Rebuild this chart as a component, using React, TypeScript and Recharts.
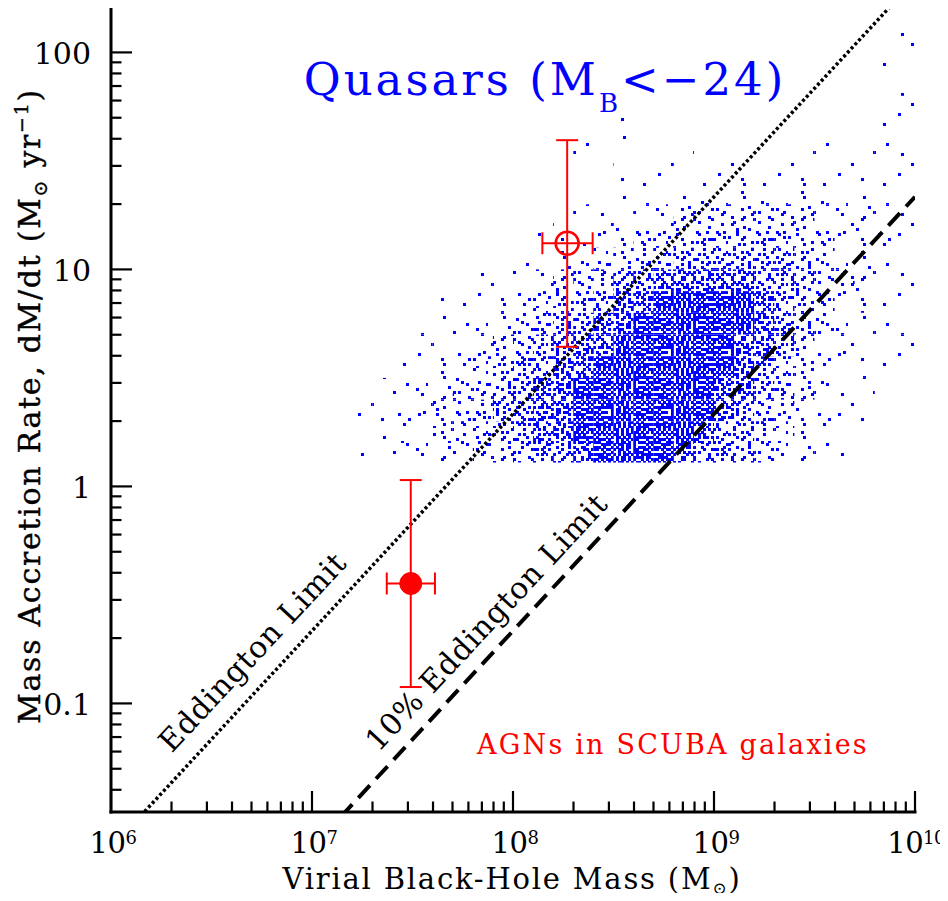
import React from 'react';
import { ComposedChart, XAxis, YAxis, Scatter, Line, ErrorBar, ReferenceArea } from 'recharts';

// ---------------- data ----------------
const massTicks = [
  1e6, 2e6, 3e6, 4e6, 5e6, 6e6, 7e6, 8e6, 9e6,
  1e7, 2e7, 3e7, 4e7, 5e7, 6e7, 7e7, 8e7, 9e7,
  1e8, 2e8, 3e8, 4e8, 5e8, 6e8, 7e8, 8e8, 9e8,
  1e9, 2e9, 3e9, 4e9, 5e9, 6e9, 7e9, 8e9, 9e9,
  1e10,
];
const rateTicks = [
  0.04, 0.05, 0.06, 0.07, 0.08, 0.09,
  0.1, 0.2, 0.3, 0.4, 0.5, 0.6, 0.7, 0.8, 0.9,
  1, 2, 3, 4, 5, 6, 7, 8, 9,
  10, 20, 30, 40, 50, 60, 70, 80, 90,
  100,
];
const massDomain = [1e6, 1e10];
const rateDomain = [0.0316, 158.5];

// Eddington-limit lines (end points)
const eddingtonLimit = [
  { mass: 1e6, rate: 0.0216 },
  { mass: 1e10, rate: 216 },
];
const tenPercentEddington = [
  { mass: 1e6, rate: 0.00216 },
  { mass: 1e10, rate: 21.6 },
];

// AGNs in SCUBA galaxies
const scubaFilled = [
  { mass: 3.1e7, rate: 0.357, massErr: [0.745e7, 0.99e7], rateErr: [0.238, 0.713] },
];
const scubaOpen = [
  { mass: 1.86e8, rate: 13.2, massErr: [0.46e8, 0.63e8], rateErr: [8.8, 26.2] },
];

// Quasar cloud: density levels (0-7) on a grid
// columns: log10 mass bins, rows: log10 rate bins (bottom row first)
const cloudLogMassEdges = [
  7.2, 7.3, 7.4, 7.5, 7.6, 7.7, 7.8, 7.9, 8.0, 8.1, 8.2, 8.3, 8.4, 8.5,
  8.6, 8.7, 8.8, 8.9, 9.0, 9.1, 9.2, 9.3, 9.4, 9.5, 9.6, 9.7, 9.8, 9.9, 10.0,
];
const cloudLogRateEdges = [
  0.11, 0.2, 0.3, 0.4, 0.5, 0.6, 0.7, 0.8, 0.9, 1.0, 1.1,
  1.2, 1.3, 1.4, 1.5, 1.6, 1.7, 1.8, 1.9, 2.0, 2.1, 2.2,
];
const cloudDensity = [
  [1,1,1,2,2,2,3,3,4,5,5,6,7,7,7,7,6,5,5,4,3,2,2,1,1,0,0,0],
  [1,1,2,2,3,3,4,4,5,6,6,7,7,7,7,7,7,6,5,5,4,3,2,1,1,0,0,0],
  [1,1,2,2,3,3,4,5,5,6,6,7,7,7,7,7,7,7,6,5,4,3,2,2,1,1,0,0],
  [0,1,1,2,2,3,3,4,5,6,6,7,7,7,7,7,7,7,6,6,5,4,3,2,1,1,0,0],
  [0,0,1,1,2,2,3,4,5,5,6,6,7,7,7,7,7,7,7,6,5,4,3,2,2,1,1,0],
  [0,0,1,1,1,2,2,3,4,5,5,6,6,7,7,7,7,7,7,6,6,5,3,2,2,1,1,1],
  [0,0,0,1,1,1,2,2,3,4,5,5,6,6,7,7,7,7,7,7,6,5,4,3,2,1,1,1],
  [0,0,0,0,1,1,1,2,2,3,4,4,5,6,6,7,7,7,7,7,6,5,4,3,2,2,1,1],
  [0,0,0,0,0,0,1,1,2,2,3,4,4,5,5,6,6,6,6,6,5,5,4,3,3,2,1,1],
  [0,0,0,0,0,0,0,0,1,1,2,2,3,3,4,4,5,5,5,5,5,5,4,3,2,2,1,1],
  [0,0,0,0,0,0,0,0,0,1,1,1,2,2,3,3,3,4,4,4,4,4,3,3,2,2,2,1],
  [0,0,0,0,0,0,0,0,0,0,1,1,1,1,2,2,3,3,3,3,3,3,3,2,2,2,1,1],
  [0,0,0,0,0,0,0,0,0,0,0,0,1,1,1,1,1,2,2,2,2,2,2,2,2,1,1,1],
  [0,0,0,0,0,0,0,0,0,0,0,0,0,1,0,1,0,1,1,1,1,1,1,1,1,1,1,1],
  [0,0,0,0,0,0,0,0,0,0,0,1,0,0,0,0,1,0,0,0,0,0,1,1,0,1,1,1],
  [0,0,0,0,0,0,0,0,0,0,0,0,0,1,0,0,0,0,1,0,0,0,0,0,1,0,1,1],
  [0,0,0,0,0,0,0,0,0,0,0,0,0,0,0,0,0,1,0,0,0,0,0,0,0,1,0,1],
  [0,0,0,0,0,0,0,0,0,0,0,0,0,0,0,0,0,0,0,0,0,0,0,0,0,0,0,1],
  [0,0,0,0,0,0,0,0,0,0,0,0,0,0,0,0,0,0,0,0,0,0,0,0,0,0,1,0],
  [0,0,0,0,0,0,0,0,0,0,0,0,0,0,0,0,0,0,0,0,0,0,0,0,0,0,0,1],
  [0,0,0,0,0,0,0,0,0,0,0,0,0,0,0,0,0,0,0,0,0,0,0,0,0,0,0,0],
];

// ---------------- style ----------------
const W = 940;
const H = 893;
const FONT = '"DejaVu Serif", serif';
const BLUE = '#0000ff';
const RED = '#ff0000';

// dot texture: digit = lowest density level at which that dot appears
const dotTexture = [
  '7.56.6.7.3.7',
  '.6.7.2.4.776',
  '4.36.7.65.7.',
  '.7.57.1.6.77',
  '6..7.4.7.653',
  '75.6.77.3.6.',
  '3.7.65.64.7.',
  '.7.4.7.62.5.',
  '5.6.63.7..76',
  '.7..5.6.4.17',
  '6.4.7.75.3.7',
  '.3.7.62.7.57',
];
const LEVELS = [1, 2, 3, 4, 5, 6, 7];
const SLOT = 2.5;
const DOT = 3;
const N = 24; // slots per big tile (four rotated copies of the 12x12 texture)
const TILE = SLOT * N;
const SLOT_IDX = Array.from({ length: N }, (_, i) => i);

const texLevel = (r: number, c: number) => {
  const q = (r >= 12 ? 2 : 0) + (c >= 12 ? 1 : 0);
  const rr = r % 12;
  const cc = c % 12;
  let ch = '.';
  if (q === 0) ch = dotTexture[rr][cc];
  else if (q === 1) ch = dotTexture[cc][rr];
  else if (q === 2) ch = dotTexture[11 - rr][11 - cc];
  else ch = dotTexture[11 - cc][rr];
  return ch === '.' ? 0 : Number(ch);
};

const isDecade = (v: number) => Math.abs(Math.log10(v) - Math.round(Math.log10(v))) < 1e-9;
const MAJOR = 21;
const MINOR = 10.5;
const TICK_W = 2.2;

const BottomTick = (p: any) => {
  const v = p.payload.value;
  const major = isDecade(v);
  const e = Math.round(Math.log10(v));
  const last = v >= massDomain[1];
  return (
    <g>
      <line x1={p.x} y1={p.y} x2={p.x} y2={p.y - (major ? MAJOR : MINOR)} stroke="#000" strokeWidth={TICK_W} />
      {major && (
        <text
          x={last ? p.x + 30 : p.x + 2}
          y={p.y + 41}
          textAnchor={last ? 'end' : 'middle'}
          fontFamily={FONT}
          fontSize={29}
          letterSpacing={-0.5}
          fill="#000"
        >
          10
          <tspan fontSize={18} dy={-9}>{e}</tspan>
        </text>
      )}
    </g>
  );
};
const TopTick = (p: any) => {
  const major = isDecade(p.payload.value);
  return <line x1={p.x} y1={p.y} x2={p.x} y2={p.y + (major ? MAJOR : MINOR)} stroke="#000" strokeWidth={TICK_W} />;
};
const LeftTick = (p: any) => {
  const v = p.payload.value;
  const major = isDecade(v);
  return (
    <g>
      <line x1={p.x} y1={p.y} x2={p.x + (major ? MAJOR : MINOR)} y2={p.y} stroke="#000" strokeWidth={TICK_W} />
      {major && (
        <text x={p.x - 20} y={p.y + 11.5} textAnchor="end" fontFamily={FONT} fontSize={30} fill="#000">
          {String(v)}
        </text>
      )}
    </g>
  );
};
const RightTick = (p: any) => {
  const major = isDecade(p.payload.value);
  return <line x1={p.x} y1={p.y} x2={p.x - (major ? MAJOR : MINOR)} y2={p.y} stroke="#000" strokeWidth={TICK_W} />;
};

const frame = { stroke: '#000', strokeWidth: 3, strokeLinecap: 'square' as const };

const FilledDot = (p: any) => <circle cx={p.cx} cy={p.cy} r={11} fill={RED} stroke={RED} strokeWidth={1} />;
const OpenDot = (p: any) => <circle cx={p.cx} cy={p.cy} r={11.5} fill="none" stroke={RED} strokeWidth={2.5} />;

export default function App() {
  const cells: any[] = [];
  cloudDensity.forEach((row, r) =>
    row.forEach((lvl, c) => {
      if (lvl > 0) {
        cells.push(
          <ReferenceArea
            key={`c${r}-${c}`}
            xAxisId="b"
            yAxisId="l"
            x1={10 ** cloudLogMassEdges[c]}
            x2={10 ** cloudLogMassEdges[c + 1]}
            y1={10 ** cloudLogRateEdges[r]}
            y2={10 ** cloudLogRateEdges[r + 1]}
            fill={`url(#cloud${lvl})`}
            fillOpacity={1}
            stroke="none"
            ifOverflow="visible"
          />
        );
      }
    })
  );

  return (
    <div style={{ position: 'relative', width: W, height: H, marginBottom: -8 }}>
      <ComposedChart width={W} height={H} margin={{ top: 1, right: 33, bottom: 0, left: 0 }}>
        <defs>
          {LEVELS.map((level) => (
            <pattern key={level} id={`cloud${level}`} width={TILE} height={TILE} patternUnits="userSpaceOnUse">
              {SLOT_IDX.flatMap((r) =>
                SLOT_IDX.map((c) => {
                  const t = texLevel(r, c);
                  return t > 0 && t <= level ? (
                    <rect
                      key={`${r}-${c}`}
                      x={c * SLOT}
                      y={r * SLOT}
                      width={DOT}
                      height={DOT}
                      fill={BLUE}
                      shapeRendering="crispEdges"
                    />
                  ) : null;
                })
              )}
            </pattern>
          ))}
        </defs>
        <XAxis
          xAxisId="b"
          orientation="bottom"
          dataKey="mass"
          type="number"
          scale="log"
          domain={massDomain}
          allowDataOverflow
          ticks={massTicks}
          interval={0}
          tickSize={0}
          tickMargin={0}
          tickLine={false}
          axisLine={frame}
          tick={(p: any) => <BottomTick {...p} />}
          height={89}
        />
        <XAxis
          xAxisId="t"
          orientation="top"
          dataKey="mass"
          type="number"
          scale="log"
          domain={massDomain}
          allowDataOverflow
          ticks={massTicks}
          interval={0}
          tickSize={0}
          tickMargin={0}
          tickLine={false}
          axisLine={frame}
          tick={(p: any) => <TopTick {...p} />}
          height={0}
        />
        <YAxis
          yAxisId="l"
          orientation="left"
          dataKey="rate"
          type="number"
          scale="log"
          domain={rateDomain}
          allowDataOverflow
          ticks={rateTicks}
          interval={0}
          tickSize={0}
          tickMargin={0}
          tickLine={false}
          axisLine={frame}
          tick={(p: any) => <LeftTick {...p} />}
          width={103}
        />
        <YAxis
          yAxisId="r"
          orientation="right"
          dataKey="rate"
          type="number"
          scale="log"
          domain={rateDomain}
          allowDataOverflow
          ticks={rateTicks}
          interval={0}
          tickSize={0}
          tickMargin={0}
          tickLine={false}
          axisLine={frame}
          tick={(p: any) => <RightTick {...p} />}
          width={0}
        />
        {cells}
        <Line
          xAxisId="b"
          yAxisId="l"
          data={eddingtonLimit}
          dataKey="rate"
          type="linear"
          stroke="#000"
          strokeWidth={3.5}
          strokeDasharray="3 2.5"
          dot={false}
          activeDot={false}
          isAnimationActive={false}
        />
        <Line
          xAxisId="b"
          yAxisId="l"
          data={tenPercentEddington}
          dataKey="rate"
          type="linear"
          stroke="#000"
          strokeWidth={4}
          strokeDasharray="17 9"
          dot={false}
          activeDot={false}
          isAnimationActive={false}
        />
        <Scatter xAxisId="b" yAxisId="l" data={scubaFilled} dataKey="rate" shape={FilledDot} isAnimationActive={false}>
          <ErrorBar direction="y" dataKey="rateErr" width={11} stroke={RED} strokeWidth={2} />
          <ErrorBar direction="x" dataKey="massErr" width={11} stroke={RED} strokeWidth={2} />
        </Scatter>
        <Scatter xAxisId="b" yAxisId="l" data={scubaOpen} dataKey="rate" shape={OpenDot} isAnimationActive={false}>
          <ErrorBar direction="y" dataKey="rateErr" width={11} stroke={RED} strokeWidth={2} />
          <ErrorBar direction="x" dataKey="massErr" width={11} stroke={RED} strokeWidth={2} />
        </Scatter>
      </ComposedChart>
      <svg
        width={W}
        height={H}
        style={{ position: 'absolute', left: 0, top: 0, overflow: 'visible', pointerEvents: 'none' }}
        fontFamily={FONT}
      >
        <text x={537} y={87} textAnchor="middle" fontSize={45} letterSpacing={3} fill={BLUE}>
          Quasars (M
          <tspan fontSize={26} dy={16.5}>B</tspan>
          <tspan dy={-16.5}>{'<\u221224)'}</tspan>
        </text>
        <text x={504} y={881} textAnchor="middle" fontSize={29} letterSpacing={1.8} fill="#000">
          Virial Black-Hole Mass (M
          <tspan fontSize={17} dy={5}>{'\u2299'}</tspan>
          <tspan dy={-5}>)</tspan>
        </text>
        <text
          transform="translate(32,398) rotate(-90)"
          textAnchor="middle"
          fontSize={30}
          letterSpacing={1.7}
          fill="#000"
          stroke="#000"
          strokeWidth={0.4}
        >
          Mass Accretion Rate, dM/dt (M
          <tspan fontSize={19} dy={7}>{'\u2299'}</tspan>
          <tspan dy={-7}> yr</tspan>
          <tspan fontSize={19} dy={-12}>{'\u22121'}</tspan>
          <tspan dy={12}>)</tspan>
        </text>
        <text transform="translate(252,651) rotate(-47)" textAnchor="middle" fontSize={30} letterSpacing={0.8} fill="#000">
          Eddington Limit
        </text>
        <text transform="translate(486,621) rotate(-47)" textAnchor="middle" fontSize={30} letterSpacing={0.8} fill="#000">
          10% Eddington Limit
        </text>
        <text x={665} y={746} textAnchor="middle" fontSize={27} letterSpacing={2.2} fill={RED}>
          AGNs in SCUBA galaxies
        </text>
      </svg>
    </div>
  );
}
